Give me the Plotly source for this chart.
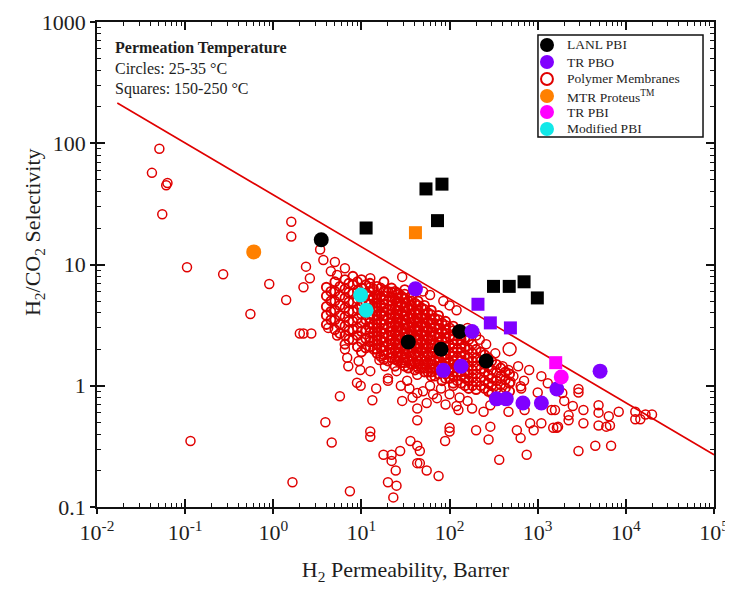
import plotly.graph_objects as go

# ---------------- data ----------------
lanl_circ_x = [3.5, 34, 80, 130, 260]
lanl_circ_y = [16, 2.3, 2.0, 2.8, 1.6]
lanl_sq_x = [11.3, 54, 82, 73, 315, 475, 700, 990]
lanl_sq_y = [20, 42, 46, 23, 6.6, 6.6, 7.2, 5.3]

trpbo_circ_x = [41, 180, 85, 135, 340, 440, 680, 1100, 1650, 5100]
trpbo_circ_y = [6.3, 2.8, 1.34, 1.45, 0.78, 0.78, 0.72, 0.72, 0.94, 1.32]
trpbo_sq_x = [210, 290, 490]
trpbo_sq_y = [4.7, 3.3, 3.0]

mtr_circ_x = [0.6]
mtr_circ_y = [12.7]
mtr_sq_x = [41]
mtr_sq_y = [18.3]

trpbi_circ_x = [1850]
trpbi_circ_y = [1.18]
trpbi_sq_x = [1600]
trpbi_sq_y = [1.55]

mod_pbi_x = [9.8, 11.3]
mod_pbi_y = [5.6, 4.2]

# Polymer membranes (hollow red circles)
poly_sparse = [
    (0.051, 90), (0.042, 57), (0.061, 45), (0.063, 47), (0.055, 26), (1.6, 22.5), (1.6, 17),
    (0.105, 9.5), (0.27, 8.3), (0.9, 6.9), (1.4, 5.1), (0.55, 3.9), (2.0, 2.7), (0.115, 0.35),
    (3.4, 13.3), (3.7, 10.9), (2.35, 9.6), (5.3, 8.2), (2.6, 7.7), (2.2, 6.5), (12.6, 7.7),
    (12.6, 6.5), (29, 7.9), (19, 6.0), (25, 5.6), (2.2, 2.7), (2.7, 2.7), (4.2, 3.0), (5.3, 2.6),
    (6.5, 2.0), (7.1, 1.45), (6.9, 1.7), (9.3, 1.6), (9.7, 1.35), (12.6, 1.32), (8.9, 1.06),
    (9.8, 1.0), (14.7, 0.95), (5.7, 0.82), (13.3, 0.76), (29, 0.75), (20, 1.15), (20, 1.1),
    (25, 1.32), (16, 1.63), (18.5, 1.45), (3.9, 0.5), (12.6, 0.42), (12.6, 0.38), (4.6, 0.34),
    (17.8, 0.27), (22, 0.27), (27.5, 0.29), (22, 0.24), (24.5, 0.2), (36, 0.35), (43, 0.32),
    (43, 0.23), (20, 0.16), (25, 0.15), (1.65, 0.16), (7.4, 0.135), (23, 0.12), (43, 0.52),
    (43, 0.87), (43, 0.65), (43, 1.23), (30, 1.63),
    (5.0, 10.5), (6.5, 9.3), (4.5, 8.8), (40, 6.5), (50, 6.0), (60, 5.6), (85, 5.0), (100, 4.6),
    (120, 4.2), (160, 3.0), (200, 2.6), (260, 2.2), (330, 1.85), (220, 2.4), (375, 1.15),
    (490, 1.08), (640, 0.99), (400, 1.45), (466, 1.35), (600, 1.45), (800, 1.35), (1100, 1.2),
    (1300, 1.05), (650, 0.95), (1000, 0.88), (530, 1.2), (700, 1.1), (100, 0.85), (130, 0.8),
    (160, 0.75), (90, 0.7), (120, 0.68), (180, 0.65), (35, 0.95), (50, 0.9), (60, 1.0),
    (38, 0.8), (65, 0.85), (80, 0.95), (33, 1.1), (28, 1.0),
]
poly_low = [
    (46, 0.23), (55, 0.2), (75, 0.18), (46, 0.29), (55, 0.72), (72, 0.79), (110, 1.0),
    (126, 0.63), (100, 0.45), (100, 0.42), (89, 0.35), (200, 0.43), (290, 0.46), (277, 0.36),
    (366, 0.245), (750, 0.27), (580, 0.43), (640, 0.37), (900, 0.43), (820, 0.49), (1100, 0.49),
    (1500, 0.45), (243, 0.61), (290, 0.69), (466, 0.61), (710, 0.63), (1440, 0.63), (1650, 0.45),
    (2900, 0.94), (2900, 0.88), (1900, 0.87), (1570, 0.63), (2240, 0.57), (2240, 0.52),
    (3300, 0.63), (3300, 0.49), (4900, 0.69), (4900, 0.6), (4900, 0.47), (6400, 0.56),
    (6600, 0.47), (8300, 0.61), (12800, 0.61), (12800, 0.53), (14600, 0.53), (19800, 0.58),
    (16700, 0.58), (1700, 0.46), (2900, 0.29), (4500, 0.32), (6800, 0.32), (6000, 0.46),
    (2000, 0.75), (2500, 0.68),
]
poly_core = {
    4: [6.5, 5.5, 4.5, 3.8, 3.2],
    5: [7.2, 6.0, 5.0, 4.2, 3.5, 2.9],
    6.5: [7.5, 6.3, 5.3, 4.4, 3.7, 3.1, 2.6, 2.2],
    8: [8.0, 6.8, 5.8, 4.9, 4.1, 3.4, 2.9, 2.4],
    10: [7.5, 6.4, 5.5, 4.6, 3.9, 3.3, 2.8, 2.3, 1.9],
    12.5: [7.0, 6.0, 5.1, 4.3, 3.6, 3.0, 2.5, 2.1],
    15: [6.6, 5.6, 4.8, 4.1, 3.5, 3.0, 2.6, 2.2, 1.85],
    18: [7.2, 6.0, 5.1, 4.4, 3.8, 3.2, 2.7, 2.3, 1.95, 1.65],
    22: [6.4, 5.4, 4.6, 3.9, 3.3, 2.8, 2.4, 2.0, 1.7],
    26: [5.8, 4.9, 4.2, 3.6, 3.1, 2.6, 2.2, 1.9, 1.6],
    31: [6.2, 5.2, 4.4, 3.8, 3.2, 2.7, 2.3, 2.0, 1.7, 1.45],
    37: [5.5, 4.6, 3.9, 3.3, 2.8, 2.4, 2.05, 1.75, 1.5],
    44: [5.0, 4.2, 3.6, 3.1, 2.6, 2.2, 1.9, 1.6, 1.4],
    52: [4.6, 3.9, 3.3, 2.8, 2.4, 2.05, 1.75, 1.5, 1.3],
    62: [4.2, 3.5, 3.0, 2.6, 2.2, 1.9, 1.6, 1.4, 1.2],
    75: [3.8, 3.2, 2.7, 2.3, 2.0, 1.7, 1.45, 1.25],
    90: [3.4, 2.9, 2.5, 2.1, 1.8, 1.55, 1.35, 1.15],
    110: [3.1, 2.6, 2.2, 1.9, 1.6, 1.4, 1.2, 1.05],
    135: [2.6, 2.2, 1.9, 1.6, 1.4, 1.2, 1.05],
    165: [2.4, 2.0, 1.7, 1.45, 1.25, 1.1, 0.95],
    200: [2.0, 1.7, 1.45, 1.25, 1.08, 0.93],
    250: [1.8, 1.5, 1.3, 1.1, 0.95],
    300: [1.6, 1.35, 1.15, 1.0, 0.87],
    380: [1.4, 1.2, 1.02, 0.88],
    480: [1.25, 1.05, 0.9],
}
poly_core_offset = {
    4.5: [6.0, 5.0, 4.1, 3.5],
    5.7: [6.6, 5.5, 4.6, 3.8, 3.2, 2.7],
    7.2: [7.0, 5.9, 4.9, 4.1, 3.4, 2.85, 2.4],
    9: [7.2, 6.1, 5.2, 4.3, 3.6, 3.0, 2.6, 2.1],
    11.2: [6.8, 5.8, 4.9, 4.1, 3.5, 2.9, 2.45, 2.05],
    13.7: [6.3, 5.3, 4.5, 3.8, 3.2, 2.75, 2.35, 2.0],
    16.5: [6.4, 5.4, 4.6, 3.9, 3.3, 2.8, 2.4, 2.05, 1.75],
    20: [6.0, 5.0, 4.25, 3.6, 3.05, 2.6, 2.2, 1.85, 1.6],
    24: [6.0, 5.1, 4.3, 3.7, 3.15, 2.7, 2.3, 1.95, 1.65, 1.45],
    28.5: [5.5, 4.7, 4.0, 3.4, 2.9, 2.45, 2.1, 1.8, 1.55],
    34: [5.0, 4.3, 3.6, 3.05, 2.6, 2.2, 1.9, 1.6, 1.4],
    40.5: [4.8, 4.1, 3.5, 3.0, 2.55, 2.15, 1.85, 1.55, 1.35],
    48: [4.4, 3.7, 3.2, 2.7, 2.3, 1.95, 1.65, 1.4],
    57: [4.0, 3.4, 2.9, 2.45, 2.1, 1.8, 1.55, 1.3],
    68: [3.6, 3.05, 2.6, 2.2, 1.9, 1.6, 1.4, 1.2],
    82: [3.3, 2.8, 2.4, 2.05, 1.75, 1.5, 1.3, 1.1],
    100: [3.0, 2.55, 2.15, 1.85, 1.55, 1.35, 1.15],
    122: [2.8, 2.35, 2.0, 1.7, 1.5, 1.3, 1.1],
    150: [2.5, 2.1, 1.8, 1.55, 1.32, 1.15, 1.0],
    182: [2.2, 1.85, 1.6, 1.35, 1.17, 1.0],
    225: [1.9, 1.6, 1.37, 1.17, 1.0],
    275: [1.7, 1.45, 1.22, 1.05, 0.9],
    340: [1.5, 1.28, 1.1, 0.95],
    430: [1.3, 1.12, 0.96],
}
poly_core_fill = {
    12.5: [5.5, 4.7, 3.9, 3.3, 2.75, 2.3],
    15: [5.2, 4.4, 3.8, 3.2, 2.8, 2.4, 2.0],
    18: [5.5, 4.7, 4.1, 3.5, 2.95, 2.5, 2.1, 1.8],
    22: [5.9, 5.0, 4.25, 3.6, 3.05, 2.6, 2.2, 1.85],
    26: [5.3, 4.55, 3.9, 3.35, 2.85, 2.4, 2.05, 1.75],
    31: [5.7, 4.8, 4.1, 3.5, 2.95, 2.5, 2.15, 1.85, 1.55],
    37: [5.0, 4.25, 3.6, 3.05, 2.6, 2.2, 1.9, 1.6],
    44: [4.6, 3.9, 3.35, 2.85, 2.4, 2.05, 1.75, 1.5],
    52: [4.25, 3.6, 3.05, 2.6, 2.2, 1.9, 1.6, 1.4],
    62: [3.85, 3.25, 2.8, 2.4, 2.05, 1.75, 1.5, 1.3],
    75: [3.5, 2.95, 2.5, 2.15, 1.85, 1.57, 1.35],
    90: [3.15, 2.7, 2.3, 1.95, 1.67, 1.45, 1.25],
    110: [2.85, 2.4, 2.05, 1.75, 1.5, 1.3],
    135: [2.4, 2.05, 1.75, 1.5, 1.3],
}
poly_big_x = [480]
poly_big_y = [2.0]

# Robeson-type upper bound line end points
bound_x = [0.017, 1e5]
bound_y = [215, 0.27]

x_major = [1e-2, 1e-1, 1e0, 1e1, 1e2, 1e3, 1e4, 1e5]
x_labels = ["10<sup>-2</sup>", "10<sup>-1</sup>", "10<sup>0</sup>", "10<sup>1</sup>",
            "10<sup>2</sup>", "10<sup>3</sup>", "10<sup>4</sup>", "10<sup>5</sup>"]
y_major = [0.1, 1, 10, 100, 1000]
y_labels = ["0.1", "1", "10", "100", "1000"]

legend_names = ["LANL PBI", "TR PBO", "Polymer Membranes", "MTR Proteus<sup>TM</sup>", "TR PBI", "Modified PBI"]
RED = "#e00000"
legend_colors = ["#000000", "#8000ff", RED, "#ff8000", "#ff00ff", "#11e8e8"]
legend_hollow = [False, False, True, False, False, False]

# ---------------- build ----------------
sparse_x = [p[0] for p in poly_sparse + poly_low]
sparse_y = [p[1] for p in poly_sparse + poly_low]
core_x, core_y = [], []
for grid in (poly_core, poly_core_offset, poly_core_fill):
    for cx, ys in grid.items():
        for yv in ys:
            core_x.append(cx)
            core_y.append(yv)

FONT = "Liberation Serif"
TXT = "#1e1e1e"

fig = go.Figure()

fig.add_trace(go.Scatter(x=core_x, y=core_y, mode="markers", name="Polymer Membranes",
                         marker=dict(symbol="circle-open", size=9, color=RED, line=dict(width=1.9))))
fig.add_trace(go.Scatter(x=sparse_x, y=sparse_y, mode="markers", name="Polymer Membranes",
                         marker=dict(symbol="circle-open", size=9, color=RED, line=dict(width=1.5))))
fig.add_trace(go.Scatter(x=poly_big_x, y=poly_big_y, mode="markers",
                         marker=dict(symbol="circle-open", size=13, color=RED, line=dict(width=1.4))))
fig.add_trace(go.Scatter(x=bound_x, y=bound_y, mode="lines",
                         line=dict(color=RED, width=1.6)))

def add_group(cx, cy, sx, sy, color, name):
    fig.add_trace(go.Scatter(x=cx, y=cy, mode="markers", name=name,
                             marker=dict(symbol="circle", size=15, color=color)))
    if sx:
        fig.add_trace(go.Scatter(x=sx, y=sy, mode="markers", name=name,
                                 marker=dict(symbol="square", size=13, color=color)))

add_group(lanl_circ_x, lanl_circ_y, lanl_sq_x, lanl_sq_y, "#000000", "LANL PBI")
add_group(trpbo_circ_x, trpbo_circ_y, trpbo_sq_x, trpbo_sq_y, "#8000ff", "TR PBO")
add_group(mtr_circ_x, mtr_circ_y, mtr_sq_x, mtr_sq_y, "#ff8000", "MTR Proteus")
add_group(trpbi_circ_x, trpbi_circ_y, trpbi_sq_x, trpbi_sq_y, "#ff00ff", "TR PBI")
add_group(mod_pbi_x, mod_pbi_y, [], [], "#11e8e8", "Modified PBI")

# invisible trace to activate overlay axes (tick styling)
fig.add_trace(go.Scatter(x=[1], y=[1], xaxis="x2", yaxis="y2", mode="markers",
                         marker=dict(opacity=0), hoverinfo="skip"))

x_minor = [k * 10 ** d for d in range(-2, 5) for k in range(2, 10)]
y_minor = [k * 10 ** d for d in range(-1, 3) for k in range(2, 10)]

axis_font = dict(family=FONT, size=22, color=TXT)

# page has an 8px body margin -> figure is offset by 8px
fig.update_layout(
    width=725, height=577,
    margin=dict(l=89, r=19, t=14, b=78, autoexpand=False),
    paper_bgcolor="white", plot_bgcolor="white",
    font=dict(family=FONT, color=TXT),
    showlegend=False,
    xaxis=dict(type="log", range=[-2, 5], tickmode="array", tickvals=x_major, ticktext=x_labels,
               ticks="outside", ticklen=5, tickwidth=1.5, tickcolor="#111",
               showline=True, linewidth=1.5, linecolor="#111", mirror=True,
               showgrid=False, zeroline=False, tickfont=axis_font, automargin=False,
               title=dict(text="H<sub>2</sub> Permeability, Barrer", font=dict(family=FONT, size=22, color=TXT),
                          standoff=19)),
    yaxis=dict(type="log", range=[-1, 3], tickmode="array", tickvals=y_major, ticktext=y_labels,
               ticks="outside", ticklen=5, tickwidth=1.5, tickcolor="#111",
               showline=True, linewidth=1.5, linecolor="#111", mirror=True,
               showgrid=False, zeroline=False, tickfont=axis_font, automargin=False),
    xaxis2=dict(type="log", range=[-2, 5], overlaying="x", side="bottom", anchor="y2",
                tickmode="array", tickvals=x_major, showticklabels=False,
                ticks="inside", ticklen=8, tickwidth=1.5, tickcolor="#111", mirror="allticks",
                showline=False, showgrid=False, zeroline=False,
                minor=dict(ticks="inside", ticklen=4, tickwidth=1.2, tickcolor="#111",
                           tickmode="array", tickvals=x_minor, showgrid=False)),
    yaxis2=dict(type="log", range=[-1, 3], overlaying="y", side="left", anchor="x2",
                tickmode="array", tickvals=y_major, showticklabels=False,
                ticks="inside", ticklen=8, tickwidth=1.5, tickcolor="#111", mirror="allticks",
                showline=False, showgrid=False, zeroline=False,
                minor=dict(ticks="inside", ticklen=4, tickwidth=1.2, tickcolor="#111",
                           tickmode="array", tickvals=y_minor, showgrid=False)),
)

# y-axis title (placed close to the tick labels as in the original)
fig.add_annotation(xref="paper", yref="paper", x=-0.102, y=0.567, xanchor="center", yanchor="middle",
                   text="H<sub>2</sub>/CO<sub>2</sub> Selectivity", textangle=-90, showarrow=False,
                   font=dict(family=FONT, size=22, color=TXT))

# temperature note
for txt, yy in [("<b>Permeation Temperature</b>", 0.946), ("Circles: 25-35 °C", 0.905),
                ("Squares: 150-250 °C", 0.862)]:
    fig.add_annotation(xref="paper", yref="paper", x=0.026, y=yy, xanchor="left", yanchor="middle",
                       text=txt, showarrow=False, font=dict(family=FONT, size=16, color=TXT))

# legend box (drawn as layout shapes + text)
PW, PH = 617.0, 485.0
fig.add_shape(type="rect", xref="paper", yref="paper", x0=0.7147, x1=0.9822, y0=0.7629, y1=0.9732,
              line=dict(color="#111", width=1.5), fillcolor="white", layer="above")
row_y = [0.9526, 0.9175, 0.8825, 0.8474, 0.8144, 0.7794]
mx = 0.7293
rx, ry = 7 / PW, 7 / PH
for name, col, hollow, yy in zip(legend_names, legend_colors, legend_hollow, row_y):
    if hollow:
        fig.add_shape(type="circle", xref="paper", yref="paper", x0=mx - rx * 0.85, x1=mx + rx * 0.85,
                      y0=yy - ry * 0.85, y1=yy + ry * 0.85, line=dict(color=col, width=2),
                      fillcolor="white", layer="above")
    else:
        fig.add_shape(type="circle", xref="paper", yref="paper", x0=mx - rx, x1=mx + rx,
                      y0=yy - ry, y1=yy + ry, line=dict(color=col, width=0),
                      fillcolor=col, layer="above")
    fig.add_annotation(xref="paper", yref="paper", x=0.7585, y=yy, xanchor="left", yanchor="middle",
                       text=name, showarrow=False, font=dict(family=FONT, size=13.5, color=TXT))

fig.write_html("out.html")
